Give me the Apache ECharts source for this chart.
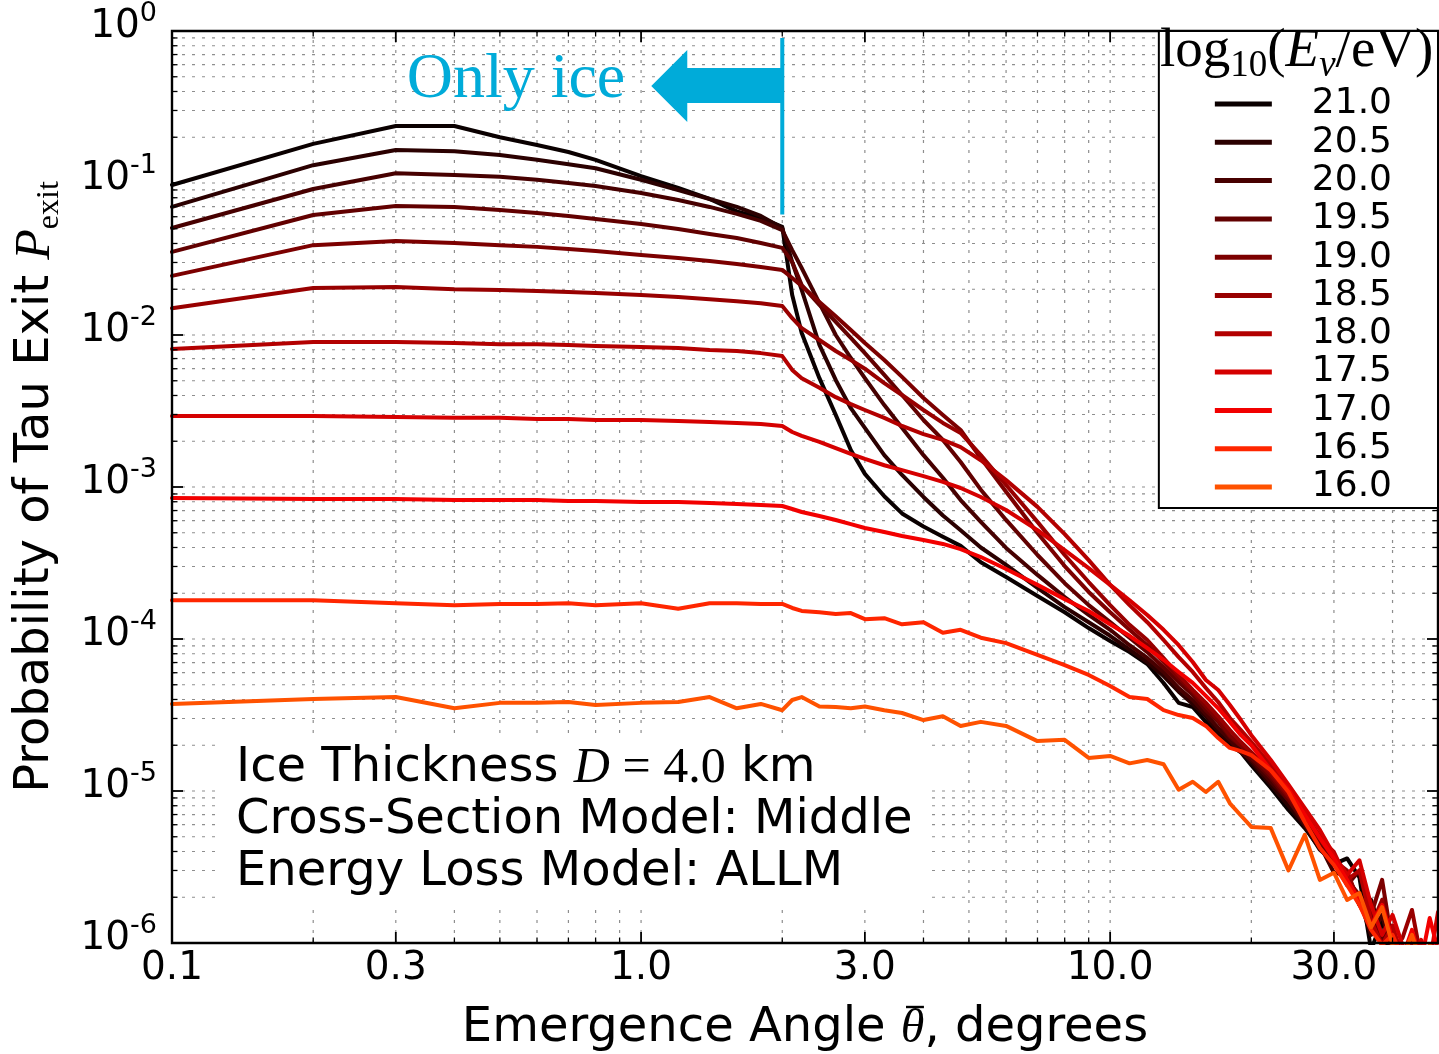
<!DOCTYPE html>
<html>
<head>
<meta charset="utf-8">
<title>Probability of Tau Exit vs Emergence Angle</title>
<script src="https://cdn.jsdelivr.net/npm/echarts@6.0.0/dist/echarts.min.js"></script>
<style>
  html, body { margin: 0; padding: 0; background: #ffffff; }
  #chart { width: 1439px; height: 1054px; }
</style>
</head>
<body>
<div id="chart"></div>
<script>
// Emergence angles (degrees) shared by every curve
const angles = [0.1, 0.2, 0.3, 0.4, 0.5, 0.6, 0.7, 0.8, 1.0, 1.2, 1.4, 1.6, 1.8, 2.0,
  2.1, 2.2, 2.4, 2.6, 2.8, 3.0, 3.3, 3.6, 4.0, 4.4, 4.8, 5.3,
  6, 7, 8, 9, 10, 11, 12, 13, 14, 15, 16, 17, 18, 19, 20,
  22, 24, 26, 28, 30, 32, 34, 36, 38, 40, 42, 44, 46, 48, 50];

// Neutrino energies, log10(E_nu / eV)
const energyLabels = ['21.0', '20.5', '20.0', '19.5', '19.0', '18.5', '18.0', '17.5', '17.0', '16.5', '16.0'];

// Exit probability for each energy, one value per angle
const pExit21_0 = [0.097, 0.181, 0.237, 0.237, 0.200, 0.178, 0.160, 0.142, 0.111, 0.0927, 0.0785, 0.065, 0.0589, 0.0514,
  0.0183, 0.0103, 0.0052, 0.00298, 0.00175, 0.00122, 8.7e-4, 6.7e-4, 5.5e-4, 4.7e-4, 4.1e-4, 3.2e-4,
  2.56e-4, 1.92e-4, 1.5e-4, 1.18e-4, 9.7e-5, 8.2e-5, 6.85e-5, 5.14e-5, 3.8e-5, 3.57e-5, 2.85e-5, 2.33e-5, 2.0e-5, 1.8e-5, 1.48e-5,
  1.05e-5, 7.5e-6, 5.7e-6, 4.2e-6, 3.3e-6, 3.6e-6, 2.7e-6, 9e-7, 1.4e-6, 8e-7, 6e-7, 5e-7, 5e-7, 5e-7, 5e-7];
const pExit20_5 = [0.0696, 0.131, 0.165, 0.162, 0.153, 0.142, 0.133, 0.125, 0.105, 0.090, 0.0785, 0.0696, 0.0607, 0.0506,
  0.0302, 0.0198, 0.0086, 0.00506, 0.0033, 0.00245, 0.00162, 0.0012, 8.6e-4, 6.5e-4, 5.2e-4, 4.0e-4,
  3.07e-4, 2.17e-4, 1.62e-4, 1.29e-4, 1.05e-4, 8.5e-5, 7.06e-5, 5.7e-5, 4.5e-5, 3.74e-5, 3.1e-5, 2.45e-5, 2.1e-5, 1.86e-5, 1.55e-5,
  1.1e-5, 8.0e-6, 5.9e-6, 4.1e-6, 3.4e-6, 2.6e-6, 1.78e-6, 1.92e-6, 1.13e-6, 8e-7, 6e-7, 6e-7, 5e-7, 5e-7, 5e-7];
const pExit20_0 = [0.0506, 0.0913, 0.116, 0.113, 0.110, 0.105, 0.100, 0.0956, 0.0859, 0.0773, 0.0696, 0.0626, 0.0563, 0.049,
  0.0362, 0.0276, 0.0162, 0.010, 0.00706, 0.0052, 0.00346, 0.00245, 0.00162, 0.00115, 8.2e-4, 5.9e-4,
  3.97e-4, 2.64e-4, 1.89e-4, 1.44e-4, 1.15e-4, 9.1e-5, 7.5e-5, 6.07e-5, 4.76e-5, 3.97e-5, 3.21e-5, 2.6e-5, 2.17e-5, 1.8e-5, 1.6e-5,
  1.15e-5, 8.7e-6, 6.0e-6, 4.4e-6, 2.9e-6, 2.8e-6, 1.92e-6, 1.13e-6, 1.53e-6, 8.5e-7, 6e-7, 6e-7, 5e-7, 5e-7, 5e-7];
const pExit19_5 = [0.0352, 0.0616, 0.0706, 0.0696, 0.0664, 0.0635, 0.0607, 0.058, 0.0537, 0.0498, 0.0462, 0.0435, 0.0403, 0.0374,
  0.0302, 0.0213, 0.0158, 0.0122, 0.00956, 0.0076, 0.00546, 0.00403, 0.00276, 0.00204, 0.00146, 9.6e-4,
  6.07e-4, 3.57e-4, 2.33e-4, 1.67e-4, 1.29e-4, 1.02e-4, 8.2e-5, 6.5e-5, 5.2e-5, 4.3e-5, 3.4e-5, 2.85e-5, 2.27e-5, 1.98e-5, 1.65e-5,
  1.22e-5, 8.7e-6, 6.3e-6, 4.6e-6, 3.5e-6, 2.4e-6, 3.0e-6, 1.53e-6, 1.05e-6, 1.3e-6, 7.5e-7, 6e-7, 5e-7, 5e-7, 5e-7];
const pExit19_0 = [0.0245, 0.039, 0.0415, 0.0403, 0.039, 0.038, 0.0368, 0.0357, 0.0336, 0.0321, 0.0307, 0.0293, 0.028, 0.0268,
  0.0237, 0.021, 0.0165, 0.0133, 0.0108, 0.00886, 0.00685, 0.0053, 0.00385, 0.00298, 0.00237, 0.00155,
  9.3e-4, 4.98e-4, 3.02e-4, 2.04e-4, 1.5e-4, 1.15e-4, 9.1e-5, 7.06e-5, 5.55e-5, 4.5e-5, 3.6e-5, 2.93e-5, 2.33e-5, 2.0e-5, 1.72e-5,
  1.27e-5, 9.1e-6, 6.64e-6, 4.76e-6, 3.6e-6, 2.6e-6, 2.07e-6, 1.53e-6, 2.6e-6, 9.7e-7, 7.5e-7, 6e-7, 5e-7, 5e-7, 5e-7];
const pExit18_5 = [0.015, 0.0204, 0.0207, 0.020, 0.0198, 0.0195, 0.0192, 0.0189, 0.0183, 0.0178, 0.0172, 0.0167, 0.0162, 0.0155,
  0.0129, 0.0111, 0.00927, 0.00785, 0.00685, 0.006, 0.00483, 0.00403, 0.00321, 0.00264, 0.00227, 0.00162,
  0.00103, 5.9e-4, 3.57e-4, 2.37e-4, 1.67e-4, 1.24e-4, 9.85e-5, 7.5e-5, 5.8e-5, 4.62e-5, 3.8e-5, 3.1e-5, 2.52e-5, 2.1e-5, 1.8e-5,
  1.33e-5, 9.4e-6, 6.85e-6, 5.06e-6, 3.5e-6, 3.0e-6, 1.78e-6, 1.3e-6, 1.92e-6, 9e-7, 1.08e-6, 1.65e-6, 8e-7, 6e-7, 5e-7];
const pExit18_0 = [0.0081, 0.009, 0.009, 0.00886, 0.0087, 0.0087, 0.00859, 0.00846, 0.00834, 0.0082, 0.00797, 0.00785, 0.0076, 0.00727,
  0.00589, 0.0052, 0.0045, 0.0039, 0.00351, 0.00321, 0.00285, 0.00252, 0.00223, 0.00204, 0.00183, 0.0015,
  0.00111, 7.4e-4, 4.9e-4, 3.3e-4, 2.27e-4, 1.67e-4, 1.29e-4, 9.85e-5, 7.6e-5, 6.07e-5, 4.76e-5, 3.85e-5, 3.02e-5, 2.52e-5, 2.1e-5,
  1.48e-5, 1.02e-5, 7.3e-6, 4.9e-6, 3.97e-6, 2.6e-6, 3.0e-6, 1.4e-6, 9.7e-7, 1.3e-6, 8e-7, 1.05e-6, 6e-7, 5e-7, 5e-7];
const pExit17_5 = [0.00293, 0.00293, 0.00289, 0.00285, 0.00285, 0.0028, 0.0028, 0.00276, 0.00276, 0.00272, 0.00268, 0.00264, 0.0026, 0.00252,
  0.0023, 0.00217, 0.00198, 0.0018, 0.00165, 0.00153, 0.00139, 0.00129, 0.00118, 0.00108, 9.85e-4, 8.6e-4,
  7.06e-4, 5.2e-4, 3.85e-4, 2.93e-4, 2.27e-4, 1.8e-4, 1.44e-4, 1.15e-4, 9.1e-5, 7.06e-5, 5.37e-5, 4.62e-5, 3.68e-5, 2.93e-5, 2.33e-5,
  1.6e-5, 1.1e-5, 7.7e-6, 5.55e-6, 3.8e-6, 2.8e-6, 3.5e-6, 1.78e-6, 1.13e-6, 1.53e-6, 9.7e-7, 8e-7, 1.05e-6, 7.5e-7, 1.6e-6];
const pExit17_0 = [8.46e-4, 8.34e-4, 8.34e-4, 8.2e-4, 8.2e-4, 8.2e-4, 8.1e-4, 8.1e-4, 7.97e-4, 7.97e-4, 7.85e-4, 7.73e-4, 7.6e-4, 7.5e-4,
  7.17e-4, 6.85e-4, 6.44e-4, 6.07e-4, 5.7e-4, 5.37e-4, 5.06e-4, 4.76e-4, 4.48e-4, 4.22e-4, 3.9e-4, 3.46e-4,
  2.89e-4, 2.27e-4, 1.83e-4, 1.53e-4, 1.25e-4, 1.05e-4, 8.7e-5, 7.3e-5, 6.07e-5, 5.14e-5, 4.22e-5, 3.5e-5, 2.85e-5, 2.33e-5, 2.0e-5,
  1.37e-5, 1.02e-5, 6.96e-6, 4.9e-6, 3.6e-6, 2.6e-6, 1.92e-6, 1.3e-6, 1.78e-6, 1.05e-6, 8e-7, 1.22e-6, 7.5e-7, 1.46e-6, 9e-7];
const pExit16_5 = [1.8e-4, 1.8e-4, 1.72e-4, 1.67e-4, 1.7e-4, 1.7e-4, 1.72e-4, 1.67e-4, 1.72e-4, 1.58e-4, 1.72e-4, 1.72e-4, 1.7e-4, 1.7e-4,
  1.6e-4, 1.53e-4, 1.5e-4, 1.46e-4, 1.48e-4, 1.35e-4, 1.37e-4, 1.25e-4, 1.29e-4, 1.1e-4, 1.15e-4, 1.02e-4,
  9.4e-5, 7.85e-5, 6.74e-5, 5.8e-5, 4.9e-5, 4.15e-5, 4.03e-5, 3.4e-5, 3.16e-5, 3.02e-5, 2.68e-5, 2.23e-5, 1.92e-5, 1.83e-5, 1.72e-5,
  1.37e-5, 9.85e-6, 6.26e-6, 4.22e-6, 3.26e-6, 2.4e-6, 1.78e-6, 1.22e-6, 9.7e-7, 1.13e-6, 8e-7, 9e-7, 6e-7, 5e-7, 5e-7];
const pExit16_0 = [3.74e-5, 4.03e-5, 4.15e-5, 3.5e-5, 3.8e-5, 3.8e-5, 3.85e-5, 3.68e-5, 3.8e-5, 3.85e-5, 4.15e-5, 3.5e-5, 3.74e-5, 3.4e-5,
  3.97e-5, 4.15e-5, 3.6e-5, 3.57e-5, 3.5e-5, 3.6e-5, 3.4e-5, 3.26e-5, 2.93e-5, 3.1e-5, 2.68e-5, 2.85e-5,
  2.68e-5, 2.13e-5, 2.17e-5, 1.65e-5, 1.7e-5, 1.52e-5, 1.6e-5, 1.5e-5, 1.02e-5, 1.15e-5, 9.85e-6, 1.15e-5, 8.3e-6, 6.9e-6, 5.8e-6,
  5.7e-6, 3.0e-6, 5.14e-6, 2.6e-6, 2.9e-6, 1.92e-6, 2.13e-6, 1.27e-6, 1.72e-6, 9.7e-7, 8e-7, 1.13e-6, 7.5e-7, 9.7e-7, 8e-7];

const curveValues = [pExit21_0, pExit20_5, pExit20_0, pExit19_5, pExit19_0, pExit18_5,
  pExit18_0, pExit17_5, pExit17_0, pExit16_5, pExit16_0];

// Heat ramp from black through red to orange
const lineColors = ['#0a0000', '#2b0000', '#470000', '#620000', '#7c0000', '#980000',
  '#b30000', '#d50000', '#f20000', '#ff2600', '#ff5200'];

// Axis ranges and labelled x ticks
const X_MIN = 0.1, X_MAX = 50, Y_MIN = 1e-6, Y_MAX = 1;
const xTickValues = [0.1, 0.3, 1, 3, 10, 30];
const xTickLabels = ['0.1', '0.3', '1.0', '3.0', '10.0', '30.0'];

// Boundary of the ice-only region
const iceEdgeAngle = 2.0;
const iceLineTop = 0.9, iceLineBottom = 0.062;

const SANS = '"DejaVu Sans", "Bitstream Vera Sans", sans-serif';
const SERIF = '"Liberation Serif", "Times New Roman", serif';
const CYAN = '#00abd9';

// Layout of the chart area
const GRID = { left: 172, top: 31, width: 1266, height: 912 };
const X_NAME_GAP = 62, NAME_SIZE = 48;

// 1..9 x 10^k positions inside [lo, hi]
function logSteps(lo, hi) {
  const out = [];
  for (let e = Math.floor(Math.log10(lo)); e <= Math.ceil(Math.log10(hi)); e++) {
    for (let m = 1; m <= 9; m++) {
      const v = Number((m * Math.pow(10, e)).toPrecision(6));
      if (v >= lo * 0.9999 && v <= hi * 1.0001) out.push({ v: v, major: m === 1 });
    }
  }
  return out;
}
const xSteps = logSteps(X_MIN, X_MAX);
const ySteps = logSteps(Y_MIN, Y_MAX);
const isXMajor = v => xTickValues.some(t => Math.abs(t - v) < 1e-9);

// dotted grid at every major and minor step
const gridData = xSteps.filter(s => s.v > X_MIN && s.v < X_MAX).map(s => [s.v, Y_MIN, 0])
  .concat(ySteps.filter(s => s.v > Y_MIN && s.v < Y_MAX).map(s => [X_MIN, s.v, 1]));

// frame + inward ticks on all four sides
const tickData = [[X_MIN, Y_MIN, 0, 0]]
  .concat(xSteps.map(s => [s.v, Y_MIN, 1, isXMajor(s.v) ? 1 : 0]))
  .concat(ySteps.map(s => [X_MIN, s.v, 2, s.major ? 1 : 0]));

const curveSeries = curveValues.map((vals, i) => ({
  name: energyLabels[i],
  type: 'line',
  z: 3,
  silent: true,
  symbol: 'none',
  showSymbol: false,
  color: lineColors[i],
  lineStyle: { color: lineColors[i], width: 4, join: 'round', cap: 'round' },
  clip: true,
  data: angles.map((a, j) => [a, vals[j]])
}));

const gridSeries = {
  type: 'custom', name: 'grid', z: 1, silent: true,
  data: gridData,
  renderItem: function (params, api) {
    let a, b;
    if (api.value(2) === 1) {
      const v = api.value(1);
      a = api.coord([X_MIN, v]); b = api.coord([X_MAX, v]);
    } else {
      const v = api.value(0);
      a = api.coord([v, Y_MIN]); b = api.coord([v, Y_MAX]);
    }
    return { type: 'line', shape: { x1: a[0], y1: a[1], x2: b[0], y2: b[1] },
      style: { stroke: '#8e8e8e', lineWidth: 1.2, lineDash: [3, 7] } };
  }
};

const frameSeries = {
  type: 'custom', name: 'frame', z: 6, silent: true,
  data: tickData,
  renderItem: function (params, api) {
    const kind = api.value(2);
    const major = api.value(3) === 1;
    const len = major ? 11 : 5.5;
    const st = { stroke: '#000', lineWidth: major ? 1.8 : 1.3 };
    if (kind === 0) {
      const tl = api.coord([X_MIN, Y_MAX]), br = api.coord([X_MAX, Y_MIN]);
      return { type: 'rect', shape: { x: tl[0], y: tl[1], width: br[0] - tl[0], height: br[1] - tl[1] },
        style: { fill: 'none', stroke: '#000', lineWidth: 2.4 } };
    }
    if (kind === 1) {
      const v = api.value(0);
      const b = api.coord([v, Y_MIN]), t = api.coord([v, Y_MAX]);
      return { type: 'group', children: [
        { type: 'line', shape: { x1: b[0], y1: b[1], x2: b[0], y2: b[1] - len }, style: st },
        { type: 'line', shape: { x1: t[0], y1: t[1], x2: t[0], y2: t[1] + len }, style: st }
      ] };
    }
    const v = api.value(1);
    const l = api.coord([X_MIN, v]), r = api.coord([X_MAX, v]);
    return { type: 'group', children: [
      { type: 'line', shape: { x1: l[0], y1: l[1], x2: l[0] + len, y2: l[1] }, style: st },
      { type: 'line', shape: { x1: r[0], y1: r[1], x2: r[0] - len, y2: r[1] }, style: st }
    ] };
  }
};

const xLabelSeries = {
  type: 'custom', name: 'xlabels', z: 6, silent: true,
  data: xTickValues.map((v, i) => [v, Y_MIN, i]),
  renderItem: function (params, api) {
    const p = api.coord([api.value(0), Y_MIN]);
    return { type: 'text', style: { text: xTickLabels[api.value(2)], x: p[0], y: p[1] + 26,
      fill: '#000', fontSize: 39, fontFamily: SANS, align: 'center', verticalAlign: 'middle' } };
  }
};

const iceSeries = {
  type: 'custom', name: 'ice', z: 7, silent: true,
  data: [[iceEdgeAngle, iceLineTop]],
  renderItem: function (params, api) {
    const top = api.coord([iceEdgeAngle, iceLineTop]);
    const bot = api.coord([iceEdgeAngle, iceLineBottom]);
    const x = top[0], yc = top[1] + 48;
    return { type: 'group', children: [
      { type: 'line', shape: { x1: x, y1: top[1], x2: x, y2: bot[1] }, style: { stroke: CYAN, lineWidth: 4 } },
      { type: 'polygon', shape: { points: [[x - 131, yc], [x - 95, yc - 36], [x - 95, yc - 18], [x, yc - 18],
          [x, yc + 17], [x - 95, yc + 17], [x - 95, yc + 36]] }, style: { fill: CYAN } },
      { type: 'text', style: { text: 'Only ice', x: x - 157, y: yc - 6, align: 'right', verticalAlign: 'middle',
          fontSize: 64, fontFamily: SERIF, fill: CYAN } }
    ] };
  }
};

// Overbar for the theta in the x-axis title, placed from measured text widths
function thetaBar() {
  const ctx = document.createElement('canvas').getContext('2d');
  ctx.font = NAME_SIZE + 'px ' + SANS;
  const w1 = ctx.measureText('Emergence Angle ').width;
  const w3 = ctx.measureText(', degrees').width;
  ctx.font = 'italic ' + NAME_SIZE + 'px ' + SERIF;
  const wt = ctx.measureText('\u03B8').width;
  const x0 = GRID.left + GRID.width / 2 - (w1 + wt + w3) / 2 + w1;
  const y = GRID.top + GRID.height + X_NAME_GAP + 2;
  return { type: 'line', z: 5, shape: { x1: x0 + wt * 0.22, y1: y, x2: x0 + wt * 0.98, y2: y },
    style: { stroke: '#000', lineWidth: 2.4 } };
}

const chart = echarts.init(document.getElementById('chart'), null, { renderer: 'canvas' });

chart.setOption({
  animation: false,
  backgroundColor: '#ffffff',
  grid: { left: GRID.left, top: GRID.top, width: GRID.width, height: GRID.height, containLabel: false, outerBoundsMode: 'none' },
  xAxis: {
    type: 'log', logBase: 10, min: X_MIN, max: X_MAX,
    name: 'Emergence Angle {t|\u03B8}, degrees',
    nameLocation: 'middle', nameGap: X_NAME_GAP,
    nameTextStyle: { fontSize: NAME_SIZE, fontFamily: SANS, color: '#000',
      rich: { t: { fontSize: NAME_SIZE, fontFamily: SERIF, fontStyle: 'italic', color: '#000' } } },
    axisLine: { show: false }, axisTick: { show: false }, axisLabel: { show: false },
    splitLine: { show: false }, minorTick: { show: false }, minorSplitLine: { show: false }
  },
  yAxis: {
    type: 'log', logBase: 10, min: Y_MIN, max: Y_MAX,
    name: 'Probability of Tau Exit {p|P}{s|exit}',
    nameLocation: 'middle', nameRotate: 90, nameGap: 106,
    nameTextStyle: { fontSize: NAME_SIZE, fontFamily: SANS, color: '#000', lineHeight: 60,
      rich: {
        p: { fontSize: 50, fontFamily: SERIF, fontStyle: 'italic', color: '#000', lineHeight: 60 },
        s: { fontSize: 32, fontFamily: SERIF, color: '#000', verticalAlign: 'bottom' }
      } },
    axisLine: { show: false }, axisTick: { show: false }, splitLine: { show: false },
    axisLabel: {
      margin: 15,
      padding: [0, 0, 9, 0],
      formatter: function (v) { return '{b|10}{s|' + Math.round(Math.log10(v)) + '}'; },
      rich: {
        b: { fontSize: 39, fontFamily: SANS, color: '#000' },
        s: { fontSize: 27, fontFamily: SANS, color: '#000', verticalAlign: 'top', padding: [0, 0, 26, 0] }
      }
    }
  },
  legend: {
    data: energyLabels,
    orient: 'vertical',
    right: 1, top: 31,
    z: 10,
    padding: [55, 46, 3, 56],
    itemGap: 2.3,
    itemWidth: 57, itemHeight: 5,
    icon: 'rect',
    itemStyle: { borderWidth: 0 },
    selectedMode: false,
    backgroundColor: '#ffffff',
    borderColor: '#000', borderWidth: 2, borderRadius: 0,
    formatter: function (name) { return '{n|' + name + '}'; },
    textStyle: {
      rich: { n: { fontSize: 36, fontFamily: SANS, color: '#000', lineHeight: 38.3, padding: [0, 0, 0, 35] } }
    }
  },
  graphic: [
    // legend heading
    { type: 'text', z: 100, style: {
        x: 1160, y: 52, verticalAlign: 'middle',
        text: '{r|log}{sb|10}{r|(}{i|E}{isb|\u03BD}{r|/eV)}',
        rich: {
          r: { fontSize: 55, fontFamily: SERIF, fill: '#000', lineHeight: 66 },
          i: { fontSize: 55, fontFamily: SERIF, fontStyle: 'italic', fill: '#000', lineHeight: 66 },
          sb: { fontSize: 37, fontFamily: SERIF, fill: '#000', verticalAlign: 'bottom' },
          isb: { fontSize: 37, fontFamily: SERIF, fontStyle: 'italic', fill: '#000', verticalAlign: 'bottom' }
        } } },
    // white panel behind the run description
    { type: 'rect', z: 2, shape: { x: 217, y: 737, width: 708, height: 169 }, style: { fill: '#ffffff' } },
    { type: 'text', z: 4, style: {
        x: 236, y: 769, verticalAlign: 'middle',
        text: 'Ice Thickness {m|D}{r| = 4.0} km', fontSize: 48, fontFamily: SANS, fill: '#000',
        rich: { m: { fontSize: 50, fontFamily: SERIF, fontStyle: 'italic', fill: '#000' },
                r: { fontSize: 50, fontFamily: SERIF, fill: '#000' } } } },
    { type: 'text', z: 4, style: { x: 236, y: 821, verticalAlign: 'middle',
        text: 'Cross-Section Model: Middle', fontSize: 48, fontFamily: SANS, fill: '#000' } },
    { type: 'text', z: 4, style: { x: 236, y: 873, verticalAlign: 'middle',
        text: 'Energy Loss Model: ALLM', fontSize: 48, fontFamily: SANS, fill: '#000' } },
    thetaBar()
  ],
  series: [gridSeries].concat(curveSeries, [frameSeries, xLabelSeries, iceSeries])
});
</script>
</body>
</html>
